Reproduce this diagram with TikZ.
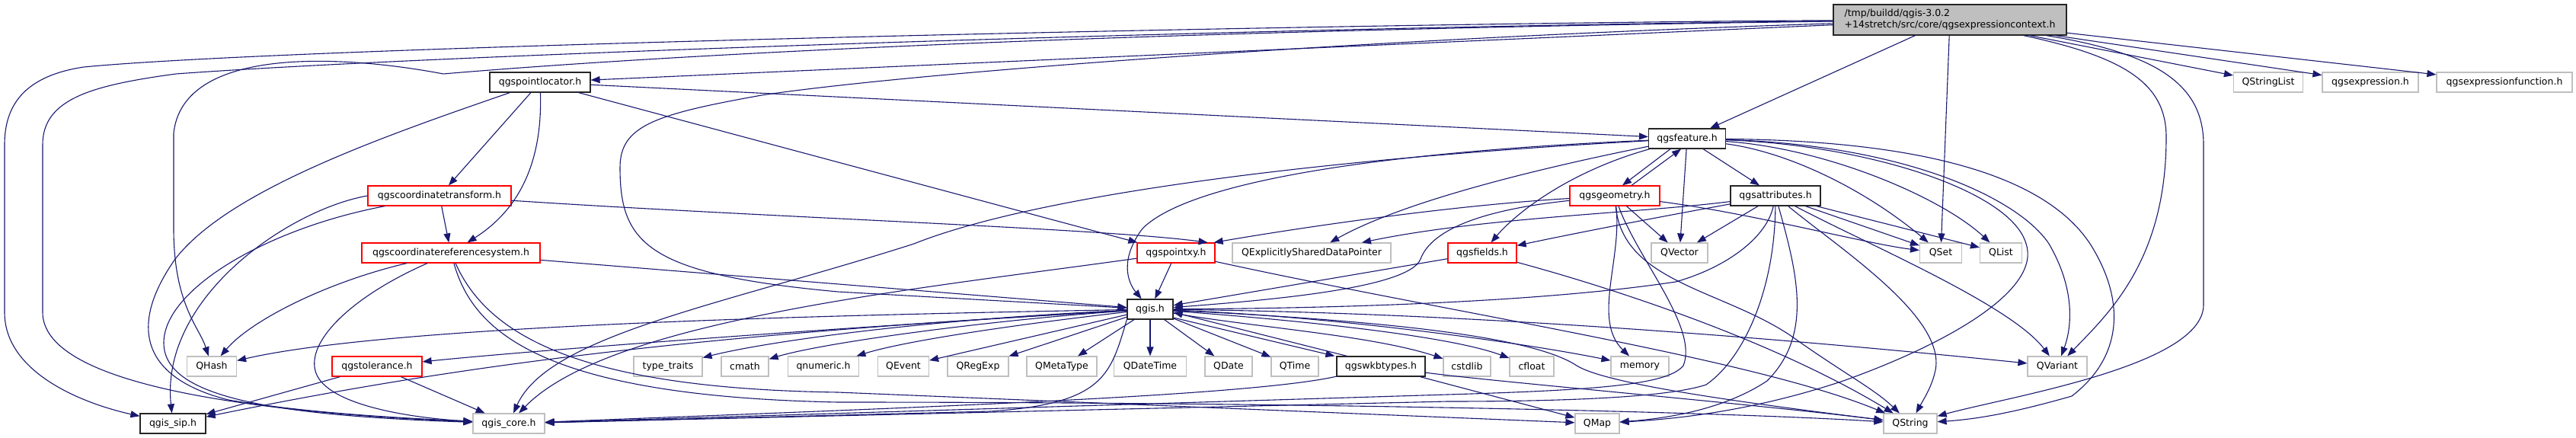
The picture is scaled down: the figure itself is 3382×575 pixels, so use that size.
\documentclass[tikz,border=0pt]{standalone}
\usepackage{fontspec}
\setmainfont{DejaVu Sans}
\usetikzlibrary{arrows.meta}
\definecolor{edgeblue}{HTML}{191970}
\definecolor{nodegray}{HTML}{BFBFBF}
\definecolor{rootgray}{HTML}{BFBFBF}
\definecolor{nodered}{HTML}{FF0000}
\tikzset{
  nb/.style={rectangle, minimum height=26pt, inner sep=0pt, fill=white, font=\fontsize{12.5}{15}\selectfont},
  blkbox/.style={nb, draw=black!85, line width=1.2pt},
  grybox/.style={nb, draw=nodegray, line width=1.2pt},
  redbox/.style={nb, draw=nodered, line width=1.2pt},
  e/.style={draw=edgeblue, line width=1.1pt, -{Triangle[length=12pt,width=9pt]}}
}
\begin{document}
\begin{tikzpicture}[x=1pt,y=-1pt]
\useasboundingbox (0,0) rectangle (3382,575);
\fill[white] (0,0) rectangle (3382,575);

% nodes
\node[blkbox, fill=rootgray, minimum width=306pt, minimum height=40pt, align=left] (R) at (2560,26) {/tmp/buildd/qgis-3.0.2\\+14stretch/src/core/qgsexpressioncontext.h};
\node[blkbox, minimum width=132pt] (PL) at (709,108) {qgspointlocator.h};
\node[grybox, minimum width=91pt] (QSL) at (2978,108) {QStringList};
\node[grybox, minimum width=126pt] (QE) at (3112,108) {qgsexpression.h};
\node[grybox, minimum width=178pt] (QEF) at (3288,108) {qgsexpressionfunction.h};
\node[blkbox, minimum width=101pt] (F) at (2215,182) {qgsfeature.h};
\node[redbox, minimum width=188pt] (CT) at (577,257) {qgscoordinatetransform.h};
\node[redbox, minimum width=118pt] (G) at (2120,257) {qgsgeometry.h};
\node[blkbox, minimum width=118pt] (A) at (2331,257) {qgsattributes.h};
\node[redbox, minimum width=234pt] (CRS) at (592,332) {qgscoordinatereferencesystem.h};
\node[redbox, minimum width=102pt] (PXY) at (1544,332) {qgspointxy.h};
\node[grybox, minimum width=208pt] (ESDP) at (1722,332) {QExplicitlySharedDataPointer};
\node[redbox, minimum width=90pt] (FLD) at (1946,332) {qgsfields.h};
\node[grybox, minimum width=74pt] (QVec) at (2205,332) {QVector};
\node[grybox, minimum width=55pt] (QSet) at (2548,332) {QSet};
\node[grybox, minimum width=55pt] (QList) at (2627,332) {QList};
\node[blkbox, minimum width=60pt] (QG) at (1510,406) {qgis.h};
\node[grybox, minimum width=65pt] (QHash) at (278,481) {QHash};
\node[redbox, minimum width=118pt] (TOL) at (495,481) {qgstolerance.h};
\node[grybox, minimum width=90pt] (TT) at (877,481) {type\_traits};
\node[grybox, minimum width=62pt] (CM) at (978,481) {cmath};
\node[grybox, minimum width=93pt] (QN) at (1081,481) {qnumeric.h};
\node[grybox, minimum width=67pt] (QEv) at (1186,481) {QEvent};
\node[grybox, minimum width=80pt] (QRE) at (1284,481) {QRegExp};
\node[grybox, minimum width=92pt] (QMT) at (1394,481) {QMetaType};
\node[grybox, minimum width=95pt] (QDT) at (1510,481) {QDateTime};
\node[grybox, minimum width=62pt] (QD) at (1613,481) {QDate};
\node[grybox, minimum width=62pt] (QT) at (1700,481) {QTime};
\node[blkbox, minimum width=116pt] (WKB) at (1813,481) {qgswkbtypes.h};
\node[grybox, minimum width=62pt] (CSL) at (1926,481) {cstdlib};
\node[grybox, minimum width=58pt] (CFL) at (2011,481) {cfloat};
\node[grybox, minimum width=76pt] (MEM) at (2153,481) {memory};
\node[grybox, minimum width=78pt] (QVar) at (2701,481) {QVariant};
\node[blkbox, minimum width=86pt] (SIP) at (227,556) {qgis\_sip.h};
\node[grybox, minimum width=94pt] (CORE) at (668,556) {qgis\_core.h};
\node[grybox, minimum width=58pt] (QMap) at (2097,556) {QMap};
\node[grybox, minimum width=70pt] (QStr) at (2508,556) {QString};

% root edges
\draw[e] (R) -- (PL);
\draw[e] (R) -- (F);
\draw[e] (R) -- (QSL);
\draw[e] (R) -- (QE);
\draw[e] (R) -- (QEF);
\draw[e] (R) -- (QSet);
\draw[e] (R) .. controls (2790,75) and (2844,110) .. (2844,180) .. controls (2844,340) and (2770,410) .. (QVar);
\draw[e] (R) .. controls (2830,70) and (2893,110) .. (2893,190) -- (2893,400) .. controls (2893,480) and (2640,520) .. (QStr);
\draw[e] (R) .. controls (1800,30) and (400,60) .. (110,88) .. controls (30,100) and (6,140) .. (6,190) -- (6,410) .. controls (6,490) and (110,530) .. (SIP);
\draw[e] (R) .. controls (1700,35) and (600,70) .. (231,97) .. controls (120,112) and (56,130) .. (56,190) -- (56,410) .. controls (56,500) and (300,540) .. (CORE);
\draw[e] (R) .. controls (1500,40) and (900,70) .. (582,97) .. controls (450,72) and (240,60) .. (228,175) -- (228,300) .. controls (228,400) and (262,430) .. (QHash);
\draw[e] (R) .. controls (1800,50) and (1200,95) .. (1000,125) .. controls (860,150) and (814,165) .. (814,220) .. controls (814,320) and (850,360) .. (1100,383) -- (QG);

% qgspointlocator
\draw[e] (PL) -- (F);
\draw[e] (PL) -- (CT);
\draw[e] (PL) .. controls (712,200) and (690,270) .. (CRS);
\draw[e] (PL) -- (PXY);
\draw[e] (PL) .. controls (500,180) and (300,250) .. (230,340) .. controls (160,440) and (200,500) .. (300,525) .. controls (420,545) and (560,550) .. (CORE);

% qgscoordinatetransform
\draw[e] (CT) -- (CRS);
\draw[e] (CT) .. controls (1000,285) and (1450,300) .. ([xshift=-10pt]PXY.north east);
\draw[e] (CT.west) .. controls (380,275) and (210,390) .. (SIP);
\draw[e] (CT) .. controls (350,300) and (215,380) .. (215,450) .. controls (215,520) and (350,545) .. (CORE);

% qgscoordinatereferencesystem
\draw[e] (CRS) -- (QG);
\draw[e] (CRS) .. controls (430,370) and (330,420) .. (QHash);
\draw[e] (CRS) .. controls (460,390) and (400,450) .. (415,490) .. controls (430,530) and (530,548) .. (CORE);
\draw[e] (CRS) .. controls (640,440) and (760,510) .. (1100,515) -- (QMap);
\draw[e] (CRS) .. controls (620,430) and (700,520) .. (1100,528) .. controls (1700,528) and (2250,540) .. (QStr);

% qgspointxy
\draw[e] (PXY) -- (QG);
\draw[e] (PXY) .. controls (1200,380) and (800,420) .. (CORE);
\draw[e] (PXY) .. controls (1900,410) and (2300,470) .. (QStr);

% qgsfeature
\draw[e] ([xshift=-22pt]F.south) -- ([xshift=10pt]G.north);
\draw[e] ([xshift=22pt]G.north) -- ([xshift=-8pt]F.south);
\draw[e] (F) -- (A);
\draw[e] (F) -- (QVec);
\draw[e] (F) .. controls (2060,225) and (1990,280) .. (FLD);
\draw[e] (F) .. controls (2050,215) and (1850,260) .. (ESDP);
\draw[e] (F) .. controls (1800,200) and (1560,240) .. (1500,300) .. controls (1470,340) and (1480,370) .. (QG);
\draw[e] (F) .. controls (1700,210) and (1350,260) .. (1200,320) .. controls (950,400) and (720,440) .. (CORE);
\draw[e] (F) .. controls (2350,200) and (2450,250) .. (QSet);
\draw[e] (F) .. controls (2400,195) and (2550,260) .. (QList);
\draw[e] (F) .. controls (2500,190) and (2650,260) .. (2690,320) .. controls (2725,380) and (2720,430) .. (QVar);
\draw[e] (F) .. controls (2450,190) and (2640,250) .. (2660,320) .. controls (2680,380) and (2560,450) .. (2420,500) .. controls (2300,540) and (2200,550) .. (QMap);
\draw[e] (F) .. controls (2550,185) and (2700,240) .. (2750,330) .. controls (2790,400) and (2785,470) .. (2720,520) .. controls (2650,540) and (2600,550) .. (QStr);

% qgsgeometry
\draw[e] (G) -- (QVec);
\draw[e] (G) .. controls (1900,270) and (1700,300) .. ([xshift=-2pt]PXY.north east);
\draw[e] (G) .. controls (1950,275) and (1880,300) .. (1865,340) .. controls (1850,380) and (1650,395) .. (QG);
\draw[e] (G) .. controls (2150,340) and (2230,430) .. (2210,480) .. controls (2190,505) and (2100,512) .. (1900,518) -- (CORE);
\draw[e] (G) .. controls (2300,280) and (2450,320) .. (QSet);
\draw[e] (G) .. controls (2130,340) and (2090,420) .. (MEM);
\draw[e] (G) .. controls (2130,370) and (2260,380) .. (2350,440) .. controls (2420,490) and (2460,510) .. (QStr);

% qgsattributes
\draw[e] (A) -- (QVec);
\draw[e] (A) .. controls (2150,290) and (2050,310) .. (FLD);
\draw[e] (A) .. controls (2150,280) and (1950,285) .. (ESDP);
\draw[e] (A) .. controls (2320,310) and (2270,350) .. (2200,370) .. controls (2000,400) and (1700,405) .. (QG);
\draw[e] (A) .. controls (2330,380) and (2290,470) .. (2240,505) .. controls (2180,525) and (2000,527) .. (1900,527) -- (CORE);
\draw[e] (A) .. controls (2360,360) and (2380,440) .. (2320,500) .. controls (2260,540) and (2180,550) .. (QMap);
\draw[e] (A) .. controls (2420,330) and (2560,420) .. (2540,490) .. controls (2535,510) and (2525,525) .. (QStr);
\draw[e] (A) .. controls (2450,320) and (2640,400) .. (QVar);
\draw[e] (A) -- (QSet);
\draw[e] (A) -- (QList);

% qgsfields
\draw[e] (FLD) -- (QG);
\draw[e] (FLD) .. controls (2050,360) and (2300,430) .. (QStr);

% qgis.h
\draw[e] (QG) .. controls (1000,415) and (500,430) .. (QHash);
\draw[e] (QG) .. controls (1100,430) and (700,460) .. (TOL);
\draw[e] (QG) .. controls (1200,420) and (1000,450) .. (TT);
\draw[e] (QG) .. controls (1300,420) and (1080,450) .. (CM);
\draw[e] (QG) .. controls (1300,430) and (1180,450) .. (QN);
\draw[e] (QG) -- (QEv);
\draw[e] (QG) -- (QRE);
\draw[e] (QG) -- (QMT);
\draw[e] (QG) -- (QDT);
\draw[e] (QG) -- (QD);
\draw[e] (QG) -- (QT);
\draw[e] ([yshift=-11pt]QG.east) -- ([xshift=-2pt]WKB.north west);
\draw[e] ([xshift=14pt]WKB.north west) -- ([yshift=-4pt]QG.east);
\draw[e] (QG) .. controls (1650,430) and (1800,440) .. (CSL);
\draw[e] (QG) .. controls (1700,420) and (1900,440) .. (CFL);
\draw[e] (QG) .. controls (1750,415) and (2000,450) .. (MEM);
\draw[e] (QG) .. controls (1900,410) and (2300,440) .. (QVar);
\draw[e] (QG) .. controls (1800,420) and (2010,440) .. (2070,480) .. controls (2110,505) and (2300,530) .. (QStr);
\draw[e] (QG.south west) .. controls (1458,490) and (1452,530) .. (1300,540) -- (CORE);
\draw[e] (QG) .. controls (900,440) and (600,480) .. (SIP);

% qgswkbtypes
\draw[e] (WKB) .. controls (1640,520) and (1200,535) .. (CORE);
\draw[e] (WKB) -- (QMap);
\draw[e] (WKB) .. controls (1950,500) and (2300,530) .. (QStr);

% qgstolerance
\draw[e] (TOL) -- (SIP);
\draw[e] (TOL) -- (CORE);
\end{tikzpicture}
\end{document}
